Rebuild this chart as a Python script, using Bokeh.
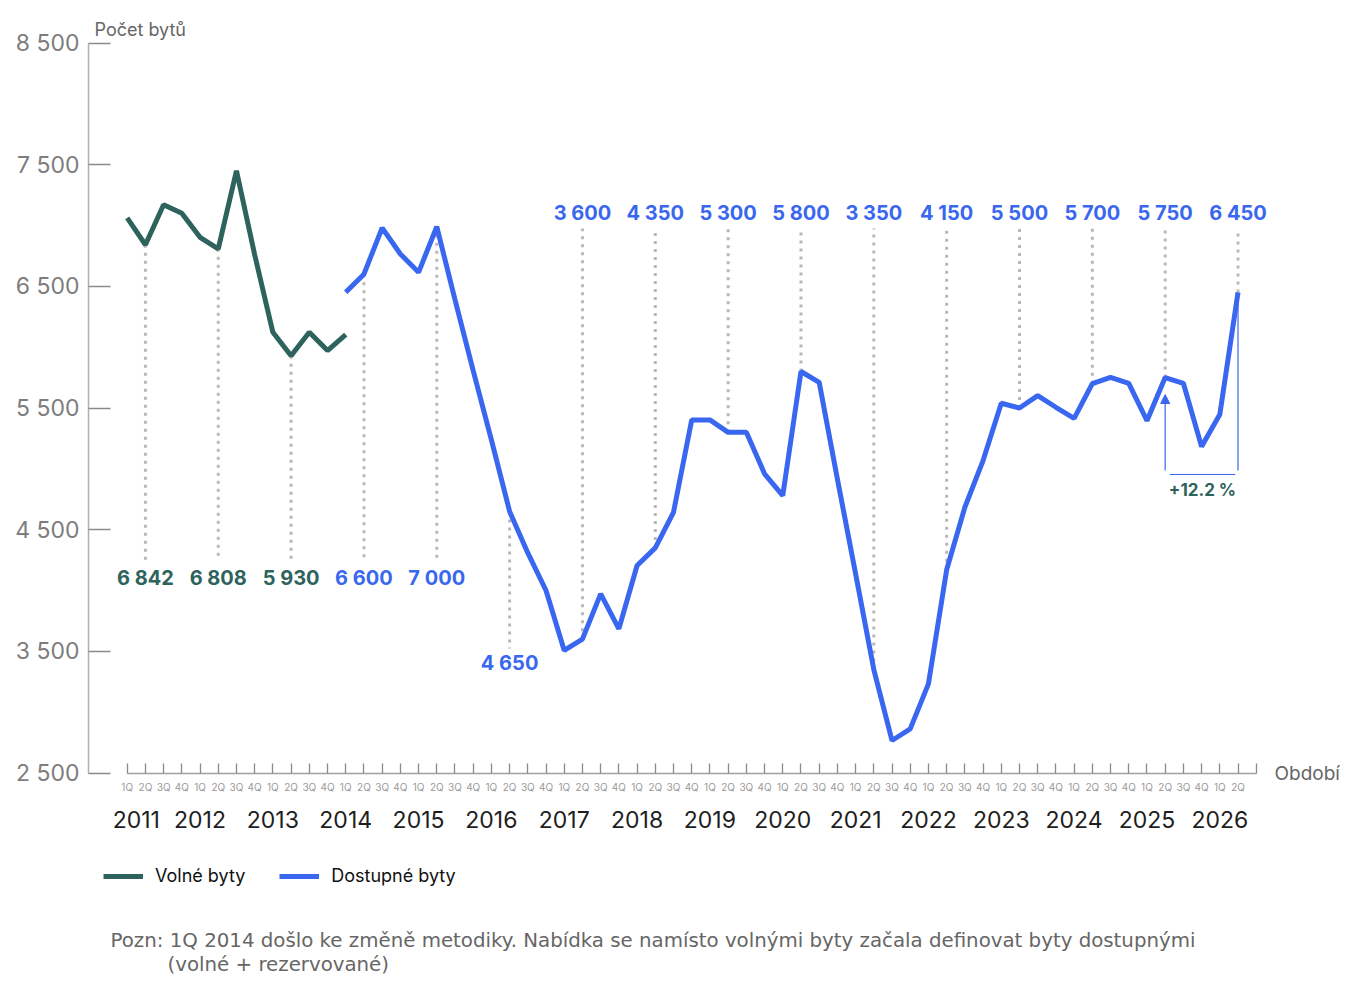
from bokeh.plotting import figure
from bokeh.layouts import column
from bokeh.models import (Range1d, LinearAxis, FixedTicker, Legend, LegendItem,
                          Label, Arrow, NormalHead, ColumnDataSource)
from bokeh.embed import file_html
from bokeh.resources import INLINE
from bokeh.core.properties import value

# ---------------- data ----------------
quarter_names = ["1Q", "2Q", "3Q", "4Q"]
years = ["2011", "2012", "2013", "2014", "2015", "2016", "2017", "2018",
         "2019", "2020", "2021", "2022", "2023", "2024", "2025", "2026"]
y_ticks = [2500, 3500, 4500, 5500, 6500, 7500, 8500]
y_tick_labels = ["2 500", "3 500", "4 500", "5 500", "6 500", "7 500", "8 500"]

# Volné byty: 1Q 2011 .. 1Q 2014 (quarter index 0..12)
volne_start = 0
volne = [7062, 6842, 7171, 7100, 6903, 6808, 7450, 6760, 6122, 5930, 6122, 5972, 6103]

# Dostupné byty: 1Q 2014 .. 2Q 2026 (quarter index 12..61)
dostupne_start = 12
dostupne = [6451, 6600, 6980, 6766, 6615, 6990, 6391, 5807, 5238, 4650,
            4309, 4000, 3507, 3600, 3972, 3685, 4205, 4350, 4643, 5402,
            5402, 5300, 5300, 4959, 4780, 5800, 5711, 4917, 4137, 3350,
            2767, 2863, 3233, 4170, 4684, 5068, 5539, 5500, 5602, 5506,
            5415, 5700, 5752, 5703, 5396, 5750, 5703, 5183, 5446, 6450]

# annotated values (2Q of each year)
note_q = [1, 5, 9, 13, 17, 21, 25, 29, 33, 37, 41, 45, 49, 53, 57, 61]
note_text = ["6 842", "6 808", "5 930", "6 600", "7 000", "4 650", "3 600", "4 350",
             "5 300", "5 800", "3 350", "4 150", "5 500", "5 700", "5 750", "6 450"]
note_series = ["v", "v", "v", "d", "d", "d", "d", "d",
               "d", "d", "d", "d", "d", "d", "d", "d"]
note_side = ["low", "low", "low", "low", "low", "lower", "top", "top",
             "top", "top", "top", "top", "top", "top", "top", "top"]

change_text = "+12.2 %"
change_from_q, change_to_q = 57, 61

series_names = ["Volné byty", "Dostupné byty"]
footnote = ["Pozn: 1Q 2014 došlo ke změně metodiky. Nabídka se namísto volnými byty začala definovat byty dostupnými",
            "(volné + rezervované)"]

# ---------------- style ----------------
GREEN = "#2e635d"
BLUE = "#3a67ef"
PXQ = 18.21            # px per quarter
PXV = 730 / 6000.0     # px per unit
FRAME_LEFT_PX = 88
FRAME_TOP_PX = 13
Q0_PX = 126.7
FRAME_W = 1180
FRAME_H = 760
BOTTOM = 70
RIGHT = 80
TOP_H = FRAME_TOP_PX + FRAME_H + BOTTOM
H2 = 147

x0 = -(Q0_PX - FRAME_LEFT_PX) / PXQ
x1 = x0 + FRAME_W / PXQ
y0 = 2500 - (FRAME_TOP_PX + FRAME_H - 772.5) / PXV
y1 = y0 + FRAME_H / PXV

def vy(py):  # screen y -> value
    return 2500 + (772.5 - py) / PXV

def qx(px):
    return (px - Q0_PX) / PXQ

p = figure(frame_width=FRAME_W, frame_height=FRAME_H, output_backend="svg",
           toolbar_location=None,
           x_range=Range1d(x0, x1), y_range=Range1d(y0, y1),
           x_axis_location=None, min_border_left=FRAME_LEFT_PX, min_border_right=RIGHT,
           min_border_top=FRAME_TOP_PX, min_border_bottom=BOTTOM)
p.outline_line_color = None
p.xgrid.visible = False
p.ygrid.visible = False
p.background_fill_color = "white"
p.border_fill_color = "white"

# y axis
ya = p.yaxis[0]
ya.ticker = FixedTicker(ticks=y_ticks)
ya.bounds = (y_ticks[0], y_ticks[-1])
ya.major_label_overrides = {t: l for t, l in zip(y_ticks, y_tick_labels)}
ya.axis_line_color = "#b0b0b0"
ya.axis_line_width = 1.5
ya.major_tick_in = 22
ya.major_tick_out = 0
ya.major_tick_line_color = "#8a8a8a"
ya.major_tick_line_width = 1.5
ya.minor_tick_line_color = None
ya.major_label_text_font = "Inter"
ya.major_label_text_font_size = "23px"
ya.major_label_text_color = "#7d7d7d"
ya.major_label_standoff = 9

# right axis carrying the x-axis title "Období"
ra = LinearAxis(ticker=FixedTicker(ticks=[2500]), major_label_overrides={2500: "Období"})
ra.axis_line_color = None
ra.major_tick_line_color = None
ra.minor_tick_line_color = None
ra.major_label_text_font = "Inter"
ra.major_label_text_font_size = "19px"
ra.major_label_text_color = "#666666"
ra.major_label_standoff = 0
p.add_layout(ra, "right")

# x axis: quarters
nq = len(years) * 4 - 2
q_ticks = list(range(nq + 1))
q_over = {i: quarter_names[i % 4] for i in range(nq)}
q_over[nq] = ""
xa = LinearAxis(ticker=FixedTicker(ticks=q_ticks), bounds=(0, nq),
                major_label_overrides=q_over)
xa.axis_line_color = "#a0a0a0"
xa.axis_line_width = 1.5
xa.major_tick_in = 10
xa.major_tick_out = 0
xa.major_tick_line_color = "#8a8a8a"
xa.major_tick_line_width = 1.3
xa.minor_tick_line_color = None
xa.major_label_text_font = "Inter"
xa.major_label_text_font_size = "10px"
xa.major_label_text_color = "#9a9a9a"
xa.major_label_standoff = 7
p.add_layout(xa, "below")

# x axis: years
yr_ticks = [0.5] + [4 * i for i in range(1, len(years))]
ya2 = LinearAxis(ticker=FixedTicker(ticks=yr_ticks),
                 major_label_overrides={t: y for t, y in zip(yr_ticks, years)})
ya2.axis_line_color = None
ya2.major_tick_line_color = None
ya2.minor_tick_line_color = None
ya2.major_label_text_font = "Inter"
ya2.major_label_text_font_size = "23px"
ya2.major_label_text_color = "#1e1e1e"
ya2.major_label_standoff = 9
p.add_layout(ya2, "below")

def series_value(q, s):
    if s == "d":
        return dostupne[q - dostupne_start]
    return volne[q - volne_start]

label_y = {"low": vy(577), "lower": vy(662), "top": vy(212)}
dot_end = {"low": vy(560), "lower": vy(648), "top": vy(228)}

# dotted guide lines
seg = ColumnDataSource(dict(
    x=note_q,
    y0=[series_value(q, s) for q, s in zip(note_q, note_series)],
    y1=[dot_end[s] for s in note_side]))
p.segment(x0="x", y0="y0", x1="x", y1="y1", source=seg, line_color="#b8b8b8",
          line_width=3, line_dash="3 5")

# lines
gx = list(range(volne_start, volne_start + len(volne)))
bx = list(range(dostupne_start, dostupne_start + len(dostupne)))
g = p.line(gx, volne, line_color=GREEN, line_width=5)
b = p.line(bx, dostupne, line_color=BLUE, line_width=5)

# value labels
lab = ColumnDataSource(dict(
    x=note_q, y=[label_y[s] for s in note_side], text=note_text,
    color=[GREEN if s == "v" else BLUE for s in note_series]))
p.text(x="x", y="y", text="text", source=lab, text_color="color",
       text_font=value("Inter"), text_font_style="bold", text_font_size="20px",
       text_align="center", text_baseline="middle")

# change annotation
v_to = dostupne[change_to_q - dostupne_start]
base_v = vy(470)
p.add_layout(Arrow(end=NormalHead(size=9, fill_color=BLUE, line_color=BLUE),
                   x_start=change_from_q, y_start=base_v,
                   x_end=change_from_q, y_end=vy(394),
                   line_color=BLUE, line_width=1.2))
p.segment(x0=[change_to_q], y0=[v_to], x1=[change_to_q], y1=[base_v],
          line_color=BLUE, line_width=1.2)
p.segment(x0=[change_from_q + 0.25], y0=[vy(474)], x1=[change_to_q - 0.15], y1=[vy(474)],
          line_color=BLUE, line_width=1.2)
p.add_layout(Label(x=(change_from_q + change_to_q) / 2 + 0.05, y=vy(489), text=change_text,
                   text_font="Inter", text_font_style="bold", text_font_size="17px",
                   text_color=GREEN, text_align="center", text_baseline="middle"))

# y axis title
p.add_layout(Label(x=qx(94), y=vy(29), text="Počet bytů", text_font="Inter",
                   text_font_size="18px", text_color="#666666", text_baseline="middle"))

# ---------------- legend + footnote panel (frame aligned with the chart) ----------------
p2 = figure(frame_width=FRAME_W, frame_height=H2, output_backend="svg", toolbar_location=None,
            x_range=Range1d(FRAME_LEFT_PX, FRAME_LEFT_PX + FRAME_W), y_range=Range1d(H2, 0),
            x_axis_location=None, y_axis_location=None,
            min_border_left=FRAME_LEFT_PX, min_border_right=RIGHT,
            min_border_top=0, min_border_bottom=0)
p2.outline_line_color = None
p2.xgrid.visible = False
p2.ygrid.visible = False
p2.background_fill_color = "white"
p2.border_fill_color = "white"

# legend-only copies of the two series (they fall outside this panel's view)
lg = p2.line(gx, volne, line_color=GREEN, line_width=5)
lb = p2.line(bx, dostupne, line_color=BLUE, line_width=5)
legend = Legend(items=[LegendItem(label=series_names[0], renderers=[lg]),
                       LegendItem(label=series_names[1], renderers=[lb])],
                orientation="horizontal", location=(103 - FRAME_LEFT_PX, H2 - 43),
                border_line_color=None, background_fill_alpha=0,
                label_text_font="Inter", label_text_font_size="18px",
                label_text_color="#111111", glyph_width=40, glyph_height=20,
                label_height=20, label_standoff=12, spacing=34, margin=0, padding=0)
p2.add_layout(legend, "center")

for txt, xoff, ypix in zip(footnote, [110, 167], [940, 964]):
    p2.add_layout(Label(x=xoff, y=ypix - TOP_H, text=txt,
                        text_font="DejaVu Sans", text_font_size="19.8px",
                        text_color="#666666", text_baseline="middle"))

layout = column(p, p2, spacing=0)
open("out.html", "w").write(file_html(layout, INLINE))
